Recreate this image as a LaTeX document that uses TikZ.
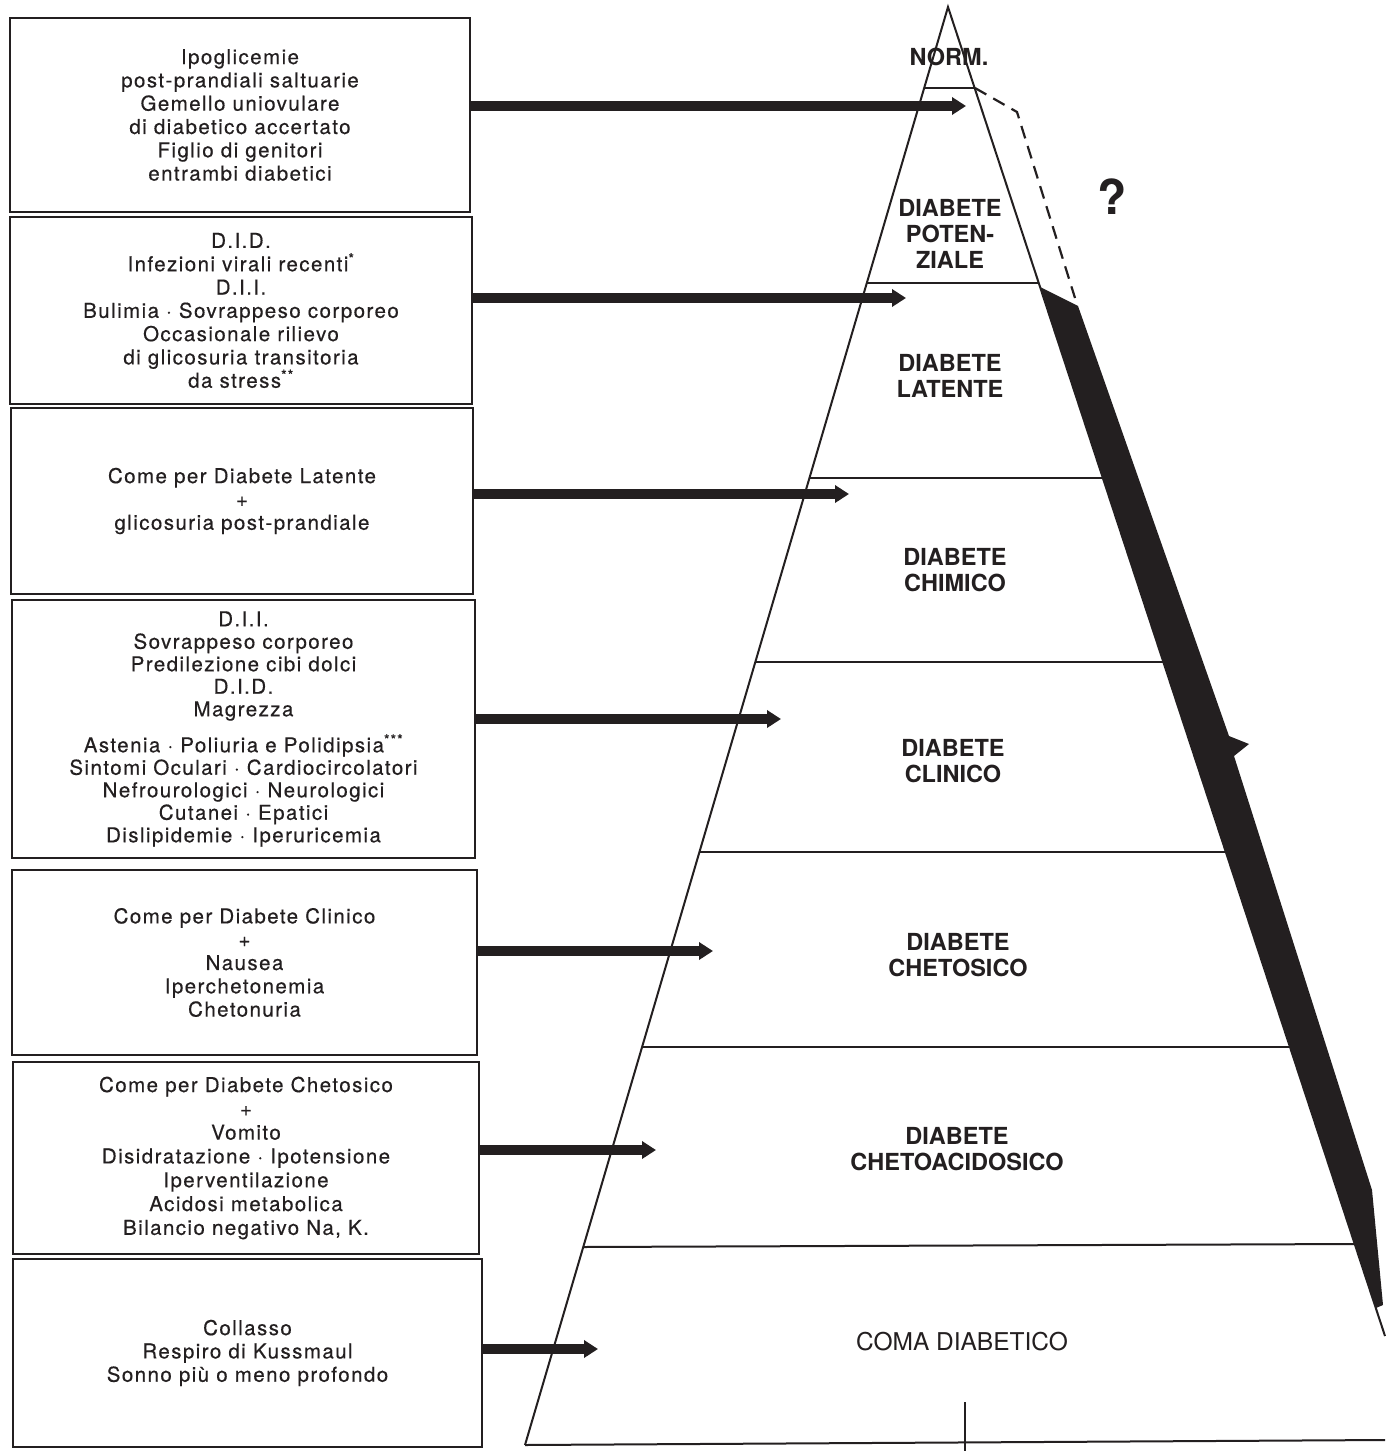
\documentclass[tikz,border=0pt]{standalone}
\usepackage{fontspec}
\setmainfont{TeX Gyre Heros}
\newfontfamily\boxfont[LetterSpace=7,FakeBold=0.4]{TeX Gyre Heros}
\usetikzlibrary{arrows.meta}
\definecolor{ink}{HTML}{231F20}
\begin{document}
\begin{tikzpicture}[x=1pt,y=-1pt,
  box/.style={draw=ink, line width=2.2pt, inner sep=0pt, outer sep=0pt, align=center,
    font=\boxfont\fontsize{20.5}{23.3}\selectfont, text=ink},
  lab/.style={align=center, font=\bfseries\fontsize{23.5}{26}\selectfont, text=ink, inner sep=0pt},
  arr/.style={draw=ink, line width=9.5pt, -{Triangle[length=14pt,width=17pt]}},
  pyr/.style={draw=ink, line width=2pt},
]
\useasboundingbox[fill=white] (0,0) rectangle (1385,1451);

% pyramid corner points
\coordinate (apex) at (948,7);
\coordinate (bl) at (525,1445);
\coordinate (br) at (1385,1336);

% black band on the right side
\fill[ink] (1040,287) -- (1078,306) -- (1229,736) -- (1249,744) -- (1234,756)
  -- (1372,1190) -- (1383,1305) -- (1376,1308) -- cycle;

% pyramid outline
\draw[pyr] (bl) -- (apex) -- (br);
\draw[pyr] (924,88) -- (975,88);
\draw[pyr] (867,283) -- (1039,283);
\draw[pyr] (809,478) -- (1103,478);
\draw[pyr] (755,662) -- (1163,662);
\draw[pyr] (699,852) -- (1226,852);
\draw[pyr] (642,1047) -- (1290,1047);
\draw[pyr] (583,1247) -- (1355,1244);
\draw[pyr] (bl) -- (1385,1440);
\draw[ink, line width=2.8pt] (965,1402) -- (965,1451);

% dashed line
\draw[ink, line width=2.2pt, dash pattern=on 13pt off 8pt] (975,88) -- (1017,112) -- (1075,298);

% labels
\node[lab] (n0) at (949,57) {NORM.};
\node[lab] (n1) at (950,234) {DIABETE\\POTEN-\\ZIALE};
\node[lab] (n2) at (950,376) {DIABETE\\LATENTE};
\node[lab] (n3) at (955,570) {DIABETE\\CHIMICO};
\node[lab] (n4) at (953,761) {DIABETE\\CLINICO};
\node[lab] (n5) at (958,955) {DIABETE\\CHETOSICO};
\node[lab] (n6) at (957,1149) {DIABETE\\CHETOACIDOSICO};
\node[text=ink, font=\fontsize{24.5}{26}\selectfont, inner sep=0pt] (n7) at (962,1342) {COMA DIABETICO};
\node[text=ink, font=\bfseries\fontsize{48}{48}\selectfont, inner sep=0pt] (q) at (1112,197) {?};

% boxes
\node[box, minimum width=460pt, minimum height=194pt] (b1) at (240,115)
  {Ipoglicemie\\post-prandiali saltuarie\\Gemello uniovulare\\di diabetico accertato\\Figlio di genitori\\entrambi diabetici};
\node[box, minimum width=462pt, minimum height=187pt] (b2) at (241,310.5)
  {D.I.D.\\Infezioni virali recenti\textsuperscript{*}\\D.I.I.\\Bulimia · Sovrappeso corporeo\\Occasionale rilievo\\di glicosuria transitoria\\da stress\textsuperscript{**}};
\node[box, minimum width=462pt, minimum height=186pt] (b3) at (242,501)
  {Come per Diabete Latente\\+\\glicosuria post-prandiale};
\node[box, minimum width=463pt, minimum height=258pt, font=\boxfont\fontsize{20.5}{22.5}\selectfont] (b4) at (243.5,729)
  {D.I.I.\\Sovrappeso corporeo\\Predilezione cibi dolci\\D.I.D.\\Magrezza\\[13.5pt]Astenia · Poliuria e Polidipsia\textsuperscript{***}\\Sintomi Oculari · Cardiocircolatori\\Nefrourologici · Neurologici\\Cutanei · Epatici\\Dislipidemie · Iperuricemia};
\node[box, minimum width=465pt, minimum height=185pt] (b5) at (244.5,962.5)
  {Come per Diabete Clinico\\+\\Nausea\\Iperchetonemia\\Chetonuria};
\node[box, minimum width=466pt, minimum height=192pt, font=\boxfont\fontsize{20.5}{23.8}\selectfont] (b6) at (246,1158)
  {Come per Diabete Chetosico\\+\\Vomito\\Disidratazione · Ipotensione\\Iperventilazione\\Acidosi metabolica\\Bilancio negativo Na, K.};
\node[box, minimum width=469pt, minimum height=188pt] (b7) at (247.5,1353)
  {Collasso\\Respiro di Kussmaul\\Sonno più o meno profondo};

% arrow ends
\coordinate (e1) at (966,106);
\coordinate (e2) at (906,298);
\coordinate (e3) at (849,494);
\coordinate (e4) at (781,719);
\coordinate (e5) at (713,951);
\coordinate (e6) at (656,1150);
\coordinate (e7) at (598,1349);

\draw[arr] (b1.east |- e1) -- (e1);
\draw[arr] (b2.east |- e2) -- (e2);
\draw[arr] (b3.east |- e3) -- (e3);
\draw[arr] (b4.east |- e4) -- (e4);
\draw[arr] (b5.east |- e5) -- (e5);
\draw[arr] (b6.east |- e6) -- (e6);
\draw[arr] (b7.east |- e7) -- (e7);
\end{tikzpicture}
\end{document}
